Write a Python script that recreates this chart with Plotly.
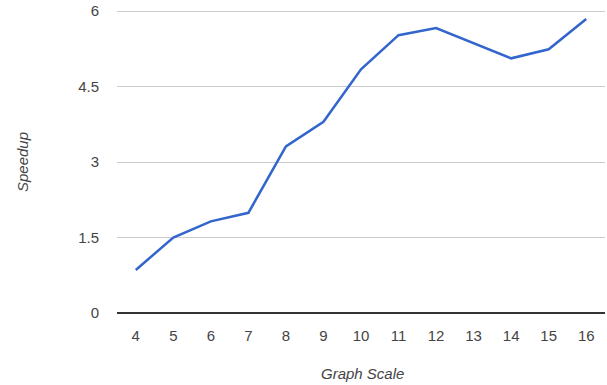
import plotly.graph_objects as go

categories = ["4", "5", "6", "7", "8", "9", "10", "11", "12", "13", "14", "15", "16"]
speedup = [0.855, 1.50, 1.82, 1.99, 3.31, 3.80, 4.84, 5.52, 5.66, 5.36, 5.06, 5.24, 5.84]
y_ticks = [0, 1.5, 3, 4.5, 6]
y_tick_labels = ["0", "1.5", "3", "4.5", "6"]

font_family = "Liberation Sans, Arial, sans-serif"

fig = go.Figure()
fig.add_trace(go.Scatter(
    x=categories, y=speedup, mode="lines",
    line=dict(color="#3366cc", width=2.5),
    hoverinfo="x+y",
    cliponaxis=False,
))

fig.update_layout(
    width=607, height=385,
    margin=dict(l=117, r=2, t=10, b=72),
    paper_bgcolor="white", plot_bgcolor="white",
    showlegend=False,
    font=dict(family=font_family, size=15, color="#444"),
    xaxis=dict(
        type="category",
        range=[-0.5, 12.5],
        showgrid=False,
        showline=False,
        ticks="outside", ticklen=9, tickcolor="rgba(0,0,0,0)",
        tickfont=dict(size=15, color="#444"),
        fixedrange=True,
    ),
    yaxis=dict(
        range=[0, 6.02],
        tickvals=y_ticks, ticktext=y_tick_labels,
        showgrid=True, gridcolor="#cccccc", gridwidth=1,
        zeroline=True, zerolinecolor="#333333", zerolinewidth=1.5,
        showline=False,
        ticks="outside", ticklen=14, tickcolor="rgba(0,0,0,0)",
        tickfont=dict(size=15, color="#444"),
        ticklabeloverflow="allow",
        fixedrange=True,
    ),
    annotations=[
        dict(text="<i>Speedup</i>", xref="paper", yref="paper",
             x=(22 - 117) / 488, y=(313 - 162) / 303, xanchor="center", yanchor="middle",
             textangle=-90, showarrow=False,
             font=dict(family=font_family, size=15, color="#444")),
        dict(text="<i>Graph Scale</i>", xref="paper", yref="paper",
             x=(362 - 117) / 488, y=(313 - 373) / 303, xanchor="center", yanchor="middle",
             showarrow=False,
             font=dict(family=font_family, size=15, color="#444")),
    ],
)

fig.write_html(
    "out.html",
    config={"displayModeBar": False},
    post_script="document.body.style.margin='0';document.body.style.overflow='hidden';",
)
